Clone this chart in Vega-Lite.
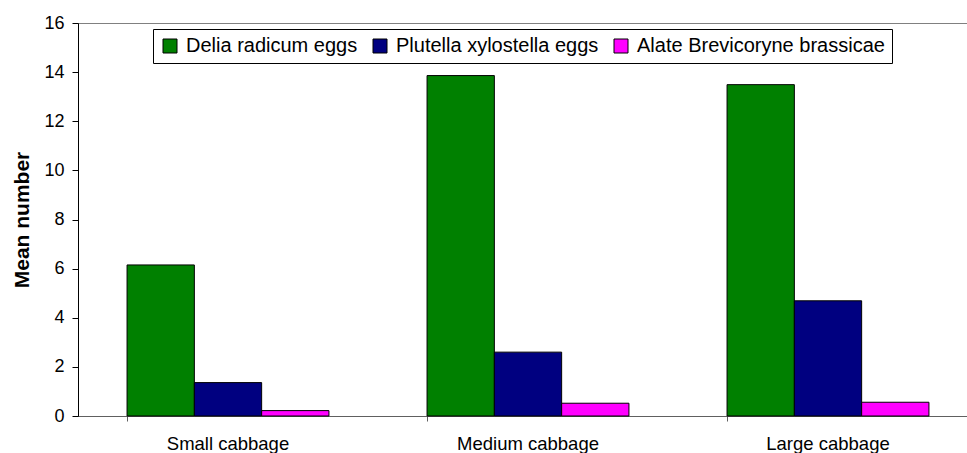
{
  "$schema": "https://vega.github.io/schema/vega-lite/v6.json",
  "autosize": "none",
  "width": 889,
  "height": 393,
  "padding": {"left": 78, "top": 23, "right": 0, "bottom": 37},
  "background": "white",
  "config": {
    "font": "Liberation Sans",
    "view": {"stroke": "#808080", "strokeWidth": 1}
  },
  "data": {
    "values": [
      {"size": "Small cabbage", "series": "Delia radicum eggs", "mean": 6.15},
      {"size": "Small cabbage", "series": "Plutella xylostella eggs", "mean": 1.36},
      {"size": "Small cabbage", "series": "Alate Brevicoryne brassicae", "mean": 0.22},
      {"size": "Medium cabbage", "series": "Delia radicum eggs", "mean": 13.86},
      {"size": "Medium cabbage", "series": "Plutella xylostella eggs", "mean": 2.6},
      {"size": "Medium cabbage", "series": "Alate Brevicoryne brassicae", "mean": 0.52},
      {"size": "Large cabbage", "series": "Delia radicum eggs", "mean": 13.49},
      {"size": "Large cabbage", "series": "Plutella xylostella eggs", "mean": 4.69},
      {"size": "Large cabbage", "series": "Alate Brevicoryne brassicae", "mean": 0.56}
    ]
  },
  "mark": {"type": "bar", "stroke": "black", "strokeWidth": 1},
  "encoding": {
    "x": {
      "field": "size",
      "type": "nominal",
      "sort": ["Small cabbage", "Medium cabbage", "Large cabbage"],
      "scale": {"range": [0, 900], "paddingInner": 0.327, "paddingOuter": 0.1635},
      "axis": {
        "title": null,
        "labelAngle": 0,
        "labelFontSize": 18.5,
        "labelColor": "black",
        "labelPadding": 13,
        "bandPosition": 0,
        "tickSize": 5,
        "tickColor": "#606060",
        "domainColor": "#606060",
        "grid": false
      }
    },
    "xOffset": {
      "field": "series",
      "type": "nominal",
      "sort": ["Delia radicum eggs", "Plutella xylostella eggs", "Alate Brevicoryne brassicae"],
      "scale": {"paddingInner": 0, "paddingOuter": 0}
    },
    "y": {
      "field": "mean",
      "type": "quantitative",
      "scale": {"domain": [0, 16], "nice": false},
      "axis": {
        "title": "Mean number",
        "titleFontSize": 21,
        "titleFontWeight": "bold",
        "titleColor": "black",
        "titlePadding": 11,
        "values": [0, 2, 4, 6, 8, 10, 12, 14, 16],
        "labelFontSize": 18,
        "labelColor": "black",
        "labelPadding": 8,
        "tickSize": 6,
        "tickColor": "black",
        "domainColor": "black",
        "grid": false
      }
    },
    "color": {
      "field": "series",
      "type": "nominal",
      "sort": ["Delia radicum eggs", "Plutella xylostella eggs", "Alate Brevicoryne brassicae"],
      "scale": {
        "domain": ["Delia radicum eggs", "Plutella xylostella eggs", "Alate Brevicoryne brassicae"],
        "range": ["#008000", "#000080", "#FF00FF"]
      },
      "legend": {
        "title": null,
        "orient": "none",
        "legendX": 75,
        "legendY": 6,
        "direction": "horizontal",
        "symbolType": "square",
        "symbolSize": 196,
        "symbolStrokeColor": "black",
        "symbolStrokeWidth": 1,
        "symbolOpacity": 1,
        "labelFontSize": 20,
        "labelLimit": 500,
        "labelColor": "black",
        "labelOffset": 6,
        "columnPadding": 12,
        "padding": 7,
        "strokeColor": "black",
        "fillColor": "white"
      }
    }
  }
}
